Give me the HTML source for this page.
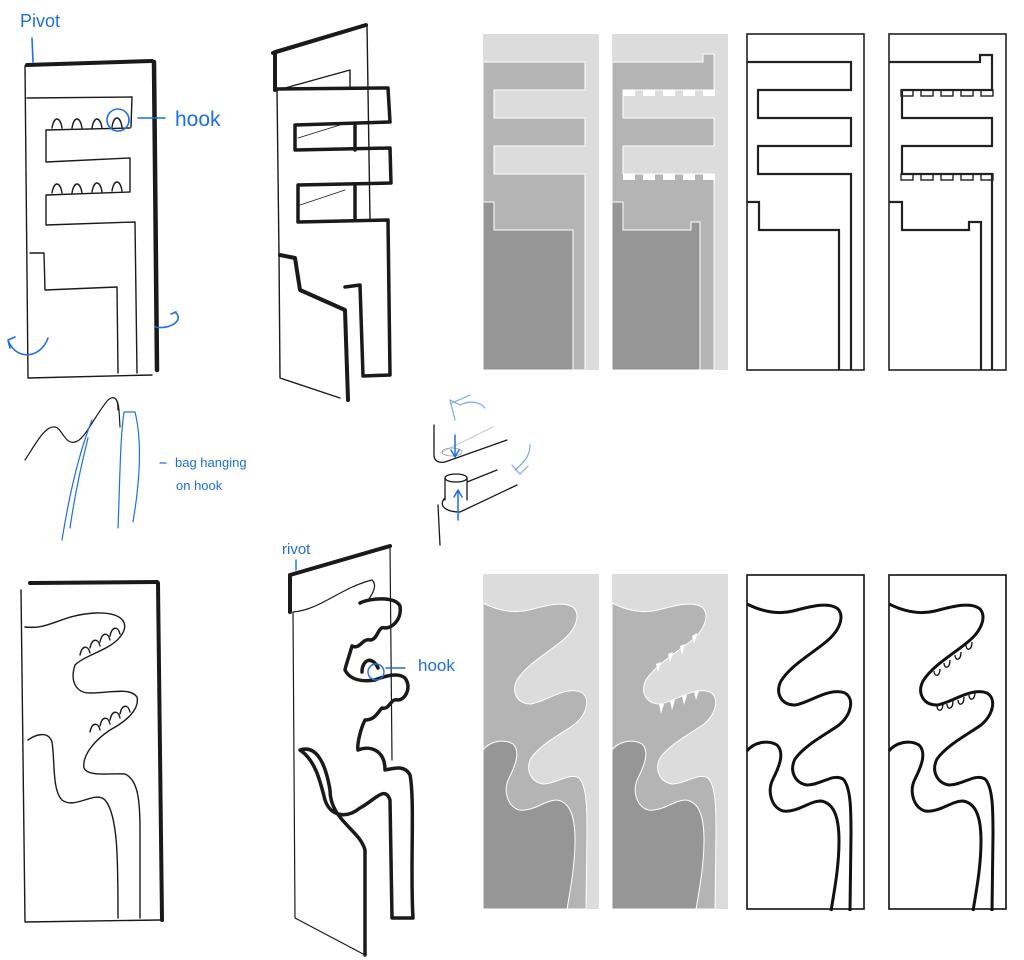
<!DOCTYPE html>
<html><head><meta charset="utf-8"><style>
html,body{margin:0;padding:0;background:#fff;}
svg{display:block;}
.sk{fill:none;stroke:#1a1a1a;stroke-linecap:round;stroke-linejoin:round;}
.bl{fill:none;stroke:#1f6fe0;stroke-linecap:round;stroke-linejoin:round;}
.t{font-family:"Liberation Sans",sans-serif;fill:#1f6fe0;}
</style></head><body>
<svg width="1024" height="960" viewBox="0 0 1024 960" xmlns="http://www.w3.org/2000/svg">
<defs>
<g id="cA"><path d="M0,29 C14,36 30,40 46,36 C62,32 82,26 91,34 C98,42 92,56 80,66 C66,78 44,90 34,106 C28,118 34,130 48,130 C62,128 82,112 98,118 C108,124 104,140 92,150 C78,160 58,170 48,184 C42,196 48,208 60,210 C74,210 86,198 96,204 C104,212 104,236 104,260 L103,336"/></g>
<g id="cB"><path d="M0,176 C6,168 20,164 30,170 C38,178 32,192 26,204 C20,216 24,232 36,236 C50,238 62,226 74,226 C86,228 92,240 92,266 C92,290 88,312 84,336"/></g>
</defs>

<!-- Gray panel 1 top -->
<g transform="translate(483,34)">
<rect width="116" height="336" fill="#dcdcdc"/>
<polygon points="0,28 102,28 102,56 11,56 11,84 102,84 102,112 11,112 11,140 102,140 102,336 0,336" fill="#b4b4b4" stroke="#fff" stroke-width="1"/>
<polygon points="0,168 11,168 11,196 90,196 90,336 0,336" fill="#969696" stroke="#fff" stroke-width="1"/>
</g>
<!-- Gray panel 2 top -->
<g transform="translate(612,34)">
<rect width="116" height="336" fill="#dcdcdc"/>
<polygon points="0,28 91,28 91,20 102,20 102,56 11,56 11,84 102,84 102,112 11,112 11,140 102,140 102,336 0,336" fill="#b4b4b4" stroke="#fff" stroke-width="1"/>
<g fill="#fff"><rect x="11" y="56" width="12" height="6"/><rect x="31" y="56" width="12" height="6"/><rect x="51" y="56" width="12" height="6"/><rect x="71" y="56" width="12" height="6"/><rect x="91" y="56" width="12" height="6"/>
<rect x="11" y="140" width="12" height="6"/><rect x="31" y="140" width="12" height="6"/><rect x="51" y="140" width="12" height="6"/><rect x="71" y="140" width="12" height="6"/><rect x="91" y="140" width="12" height="6"/></g>
<polygon points="0,168 11,168 11,196 79,196 79,188 88,188 88,336 0,336" fill="#969696" stroke="#fff" stroke-width="1"/>
</g>
<!-- Outline panel 3 top -->
<g transform="translate(747,34)" fill="none" stroke="#222" stroke-width="1.6">
<rect x="0" y="0" width="117" height="336"/>
<polyline points="0,28 104,28 104,56 11,56 11,84 104,84 104,112 11,112 11,140 104,140 104,336" stroke-width="2.2"/>
<polyline points="0,168 12,168 12,196 92,196 92,336" stroke-width="2.2"/>
</g>
<!-- Outline panel 4 top -->
<g transform="translate(889,34)" fill="none" stroke="#222" stroke-width="1.6">
<rect x="0" y="0" width="117" height="336"/>
<polyline points="0,28 91,28 91,21 103,21 103,56 13,56 13,84 103,84 103,112 13,112 13,140 103,140 103,336" stroke-width="2.2"/>
<g stroke-width="1.4"><rect x="12" y="56" width="12" height="6"/><rect x="32" y="56" width="12" height="6"/><rect x="52" y="56" width="12" height="6"/><rect x="72" y="56" width="12" height="6"/><rect x="92" y="56" width="12" height="6"/>
<rect x="12" y="140" width="12" height="6"/><rect x="32" y="140" width="12" height="6"/><rect x="52" y="140" width="12" height="6"/><rect x="72" y="140" width="12" height="6"/><rect x="92" y="140" width="12" height="6"/></g>
<polyline points="0,168 13,168 13,196 80,196 80,188 92,188 92,336" stroke-width="2.2"/>
</g>

<!-- Gray panel 1 bottom -->
<g transform="translate(483,574)">
<rect width="116" height="335" fill="#dcdcdc"/>
<path d="M0,29 C14,36 30,40 46,36 C62,32 82,26 91,34 C98,42 92,56 80,66 C66,78 44,90 34,106 C28,118 34,130 48,130 C62,128 82,112 98,118 C108,124 104,140 92,150 C78,160 58,170 48,184 C42,196 48,208 60,210 C74,210 86,198 96,204 C104,212 104,236 104,260 L103,335 L0,335 Z" fill="#b4b4b4" stroke="#fff" stroke-width="1"/>
<path d="M0,176 C6,168 20,164 30,170 C38,178 32,192 26,204 C20,216 24,232 36,236 C50,238 62,226 74,226 C86,228 92,240 92,266 C92,290 88,312 84,335 L0,335 Z" fill="#969696" stroke="#fff" stroke-width="1"/>
</g>
<!-- Gray panel 2 bottom -->
<g transform="translate(612,574)">
<rect width="116" height="335" fill="#dcdcdc"/>
<path d="M0,29 C14,36 30,40 46,36 C62,32 82,26 91,34 C98,42 92,56 80,66 C66,78 44,90 34,106 C28,118 34,130 48,130 C62,128 82,112 98,118 C108,124 104,140 92,150 C78,160 58,170 48,184 C42,196 48,208 60,210 C74,210 86,198 96,204 C104,212 104,236 104,260 L103,335 L0,335 Z" fill="#b4b4b4" stroke="#fff" stroke-width="1"/>
<path d="M0,176 C6,168 20,164 30,170 C38,178 32,192 26,204 C20,216 24,232 36,236 C50,238 62,226 74,226 C86,228 92,240 92,266 C92,290 88,312 84,335 L0,335 Z" fill="#969696" stroke="#fff" stroke-width="1"/>
<g fill="#fff"><path d="M44,90 l2,8 l3,-10z"/><path d="M56,80 l2,9 l3,-11z"/><path d="M68,72 l2,9 l3,-11z"/><path d="M80,62 l2,8 l3,-11z"/>
<path d="M47,130 l2,10 l3,-10z"/><path d="M58,127 l2,9 l3,-10z"/><path d="M70,122 l2,9 l3,-10z"/><path d="M82,118 l2,8 l3,-9z"/></g>
</g>
<!-- Outline panel 3 bottom -->
<g transform="translate(747,575)" fill="none" stroke="#111">
<rect x="0" y="0" width="117" height="334" stroke-width="1.6"/>
<g stroke-width="3"><use href="#cA"/><use href="#cB"/></g>
</g>
<!-- Outline panel 4 bottom -->
<g transform="translate(889,575)" fill="none" stroke="#111">
<rect x="0" y="0" width="117" height="334" stroke-width="1.6"/>
<g stroke-width="3"><use href="#cA"/><use href="#cB"/></g>
<g stroke-width="1.3"><path d="M45,96 c0,6 6,6 6,-2 M55,88 c0,6 6,6 6,-3 M66,80 c0,6 6,6 6,-3 M77,70 c0,6 6,6 6,-3"/>
<path d="M48,131 c0,6 6,6 6,-2 M58,129 c0,6 6,6 6,-3 M69,125 c0,6 6,6 6,-3 M80,120 c0,6 6,6 6,-3"/></g>
</g>

<!-- Sketch 1 top -->
<g class="sk" stroke-width="1.4">
<path d="M27,65 L152,61" stroke-width="4"/>
<path d="M154,62 L157,370" stroke-width="4.5"/>
<path d="M25,66 L28,378 L152,375"/>
<path d="M27,98 L132,97 L131,127"/>
<path d="M130,128 L46,130 L46,162 L130,158 L130,192 L46,195 L46,225 L135,222 L137,373"/>
<path d="M30,253 L44,253 L45,290 L117,287 L118,373"/>
<path d="M52,128 c2,-12 8,-12 10,0 M72,128 c2,-12 8,-12 10,0 M92,128 c2,-12 8,-12 10,0 M112,127 c2,-12 8,-12 10,0"/>
<path d="M52,193 c2,-12 8,-12 10,0 M72,193 c2,-12 8,-12 10,0 M92,192 c2,-12 8,-12 10,0 M112,191 c2,-12 8,-12 10,0"/>
</g>
<g class="bl" stroke-width="1.6">
<path d="M32,38 L33,62"/>
<circle cx="118" cy="120" r="11"/>
<path d="M138,118 L165,118"/>
<path d="M8,340 C15,360 40,360 48,338 M8,340 l2,8 M8,340 l7,-3"/>
<path d="M155,327 C170,330 185,320 175,312 M176,312 l-5,2"/>
</g>
<text class="t" x="20" y="27" font-size="18">Pivot</text>
<text class="t" x="175" y="126" font-size="21">hook</text>

<!-- Sketch 2 top -->
<g class="sk" stroke-width="1.4">
<path d="M273,53 L366,25 L275,52 L275,90" stroke-width="4"/>
<path d="M367,25 L370,220"/>
<path d="M285,88 L350,70 L350,88"/>
<path d="M275,89 L388,88 L390,122 L295,125 L295,150 L390,148 L391,183 L298,185 L298,222 L388,220 L390,375 L363,376 L360,285 L345,287" stroke-width="3.5"/>
<path d="M355,124 L355,150 M355,185 L355,220" stroke-width="3.5"/>
<path d="M298,138 L340,125 M300,205 L345,190" stroke-width="0.8"/>
<path d="M277,90 L279,255 L280,378 L340,398"/>
<path d="M280,255 L295,258 L300,290 L345,310 L348,400" stroke-width="4"/>
</g>

<!-- Bag sketch -->
<g class="sk" stroke-width="1.2">
<path d="M25,460 C35,445 45,425 55,427 C62,428 65,445 75,442 C85,440 95,415 108,400 C114,395 118,398 119,410 L120,427 M112,398 C117,396 118,404 118,410"/>
</g>
<g class="bl" stroke-width="1.2">
<path d="M92,420 C80,450 70,490 62,540 M88,438 C80,470 74,500 70,528 M124,412 C120,440 120,480 118,528 M125,412 L135,412 C142,440 140,480 133,522"/>
<path d="M160,463 L166,463"/>
</g>
<text class="t" x="175" y="467" font-size="13">bag hanging</text>
<text class="t" x="176" y="490" font-size="13">on hook</text>

<!-- Pin sketch -->
<g class="sk" stroke-width="1.3">
<path d="M434,425 L434,455 C434,462 440,463 445,462 L507,440"/>
<path d="M440,453 L493,427" stroke="#bbb" stroke-width="0.8"/>
<ellipse cx="452" cy="452" rx="10" ry="4" stroke="#999" stroke-width="0.8"/>
<ellipse cx="456" cy="478" rx="11" ry="4"/>
<path d="M445,478 L445,500 M467,478 L467,500 M467,482 L497,470"/>
<path d="M445,498 C438,505 445,512 460,512 L517,485"/>
<path d="M438,505 L440,545"/>
</g>
<g class="bl" stroke-width="1.5">
<path d="M455,435 L455,457 M451,450 L455,457 L459,450"/>
<path d="M458,520 L458,490 M454,497 L458,490 L462,497"/>
</g>
<g class="bl" stroke-width="1.2" opacity="0.6">
<path d="M455,420 L450,400 L460,405 C470,400 480,402 485,408 M452,403 L470,395"/>
<path d="M515,470 C525,462 530,455 530,445 M512,465 L520,474 L528,466"/>
</g>

<!-- Sketch 1 bottom -->
<g class="sk" stroke-width="1.4">
<path d="M30,583 L157,582" stroke-width="4"/>
<path d="M158,583 L162,920" stroke-width="4"/>
<path d="M21,590 L25,922 L160,920"/>
<path d="M25,627 C50,630 60,615 95,613 C125,612 130,625 120,637 C110,650 85,655 75,665 C70,680 75,693 90,693 C110,693 130,687 137,697 C140,710 125,722 110,730 C95,740 82,755 84,768 C88,777 110,773 125,774 C138,780 140,800 140,830 L140,918"/>
<path d="M28,740 C35,735 48,730 52,742 C55,760 52,790 62,800 C75,810 95,790 105,800 C118,815 118,860 118,918"/>
<path d="M80,655 c2,-10 8,-10 10,-2 M90,648 c2,-10 8,-10 10,-2 M100,642 c2,-10 8,-10 10,-2 M110,636 c2,-10 8,-10 10,-2"/>
<path d="M90,732 c2,-10 8,-10 10,-2 M100,726 c2,-10 8,-10 10,-2 M110,720 c2,-10 8,-10 10,-2 M120,714 c2,-10 8,-10 10,-2"/>
</g>

<!-- Sketch 2 bottom -->
<g class="sk" stroke-width="1.2">
<path d="M290,575 L390,546 M290,575 L290,612" stroke-width="4"/>
<path d="M390,546 L392,760"/>
<path d="M293,612 L295,918 L365,955"/>
<path d="M293,612 C320,610 340,588 372,580 C378,585 372,595 368,600"/>
<g stroke-width="3.5">
<path d="M360,603 C370,598 395,596 400,606 C402,620 392,628 385,628 C378,625 378,640 370,640 C362,638 360,650 352,646 C348,660 345,668 345,670 C350,680 362,682 375,680 C385,676 398,672 405,678 C412,688 405,700 398,700 C390,698 390,710 382,708 C378,712 375,720 365,720 C360,730 357,745 358,750 C370,745 385,750 385,770 C395,768 405,765 410,775 C415,800 410,870 413,918 L392,918 L390,800 C385,785 375,800 360,808 C345,820 330,815 325,800 C320,780 315,760 300,750 C315,745 325,760 330,790 C330,820 360,830 365,850 L365,955"/>
<path d="M362,672 C362,660 372,655 378,668"/>
</g>
</g>
<g class="bl" stroke-width="1.4">
<path d="M296,560 L296,570"/>
<circle cx="376" cy="672" r="8"/>
<path d="M386,668 L405,668"/>
</g>
<text class="t" x="282" y="554" font-size="15">rivot</text>
<text class="t" x="418" y="671" font-size="17">hook</text>
</svg>
</body></html>
